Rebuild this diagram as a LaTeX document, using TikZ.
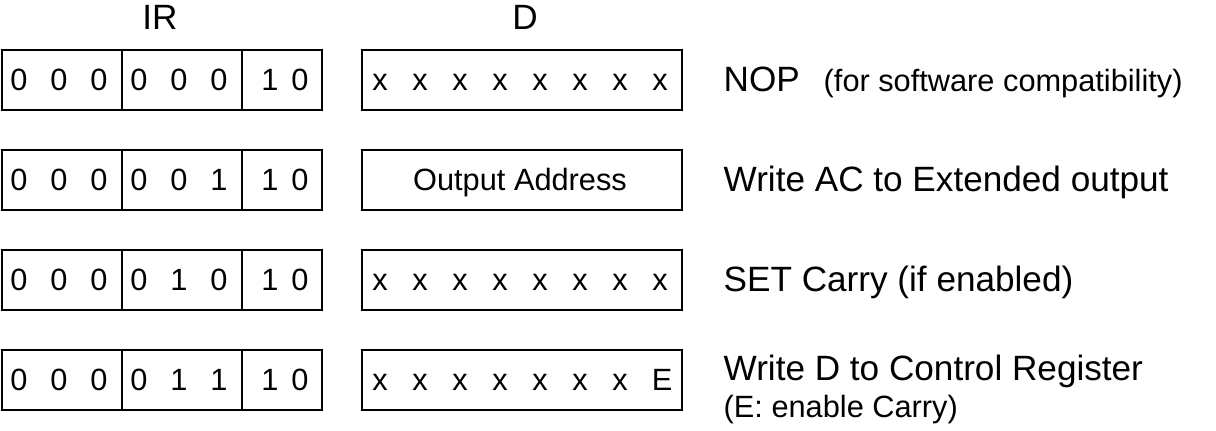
\documentclass[tikz,border=0pt]{standalone}
\usepackage{fontspec}
\setmainfont{Liberation Sans}
\begin{document}
\begin{tikzpicture}[
    field/.style={rectangle, draw, line width=0.6pt, minimum height=0.6cm, inner sep=0pt},
    bit/.style={font=\fontsize{8.75}{10}\selectfont, inner sep=0pt, anchor=base},
    head/.style={font=\fontsize{10}{12}\selectfont, inner sep=0pt, anchor=base},
    desc/.style={font=\fontsize{10}{12}\selectfont, inner sep=0pt, anchor=base west},
    note/.style={font=\fontsize{8.75}{10}\selectfont, inner sep=0pt, anchor=base west}
  ]
  \useasboundingbox (0,0) rectangle (12.16,4.31);

  % Column headings
  \node[head] (irlabel) at (1.60,4.01) {IR};
  \node[head] (dlabel) at (5.25,4.01) {D};

  % IR fields: opcode | function | 10
  \foreach \y/\a/\b/\c [count=\i] in {3.51/0/0/0, 2.51/0/0/1, 1.51/0/1/0, 0.51/0/1/1} {
    \node[field, minimum width=1.2cm] (op\i) at (0.62,\y) {};
    \node[field, minimum width=1.2cm] (fn\i) at (1.82,\y) {};
    \node[field, minimum width=0.8cm] (lo\i) at (2.82,\y) {};
    \node[field, minimum width=3.2cm] (d\i) at (5.22,\y) {};
    \node[bit] (opa\i) at (0.19,\y-0.11) {0};
    \node[bit] (opb\i) at (0.59,\y-0.11) {0};
    \node[bit] (opc\i) at (0.99,\y-0.11) {0};
    \node[bit] (fna\i) at (1.39,\y-0.11) {\a};
    \node[bit] (fnb\i) at (1.79,\y-0.11) {\b};
    \node[bit] (fnc\i) at (2.19,\y-0.11) {\c};
    \node[bit] (loa\i) at (2.70,\y-0.11) {1};
    \node[bit] (lob\i) at (3.00,\y-0.11) {0};
  }

  % D fields
  \foreach \k in {0,...,7} {
    \node[bit] (xa\k) at ({3.80+0.4*\k},3.40) {x};
    \node[bit] (xc\k) at ({3.80+0.4*\k},1.40) {x};
  }
  \node[note, anchor=base] (addr) at (5.20,2.40) {Output Address};
  \foreach \k in {0,...,6} {
    \node[bit] (xd\k) at ({3.80+0.4*\k},0.40) {x};
  }
  \node[bit] (en) at (6.62,0.40) {E};

  % Descriptions
  \node[desc] (nop) at (7.23,3.39) {NOP};
  \node[note] (nopnote) at (8.23,3.39) {(for software compatibility)};
  \node[desc] (wrac) at (7.23,2.39) {Write AC to Extended output};
  \node[desc] (setc) at (7.23,1.39) {SET Carry (if enabled)};
  \node[desc] (wrd) at (7.23,0.50) {Write D to Control Register};
  \node[note] (ennote) at (7.23,0.13) {(E: enable Carry)};

\end{tikzpicture}
\end{document}
